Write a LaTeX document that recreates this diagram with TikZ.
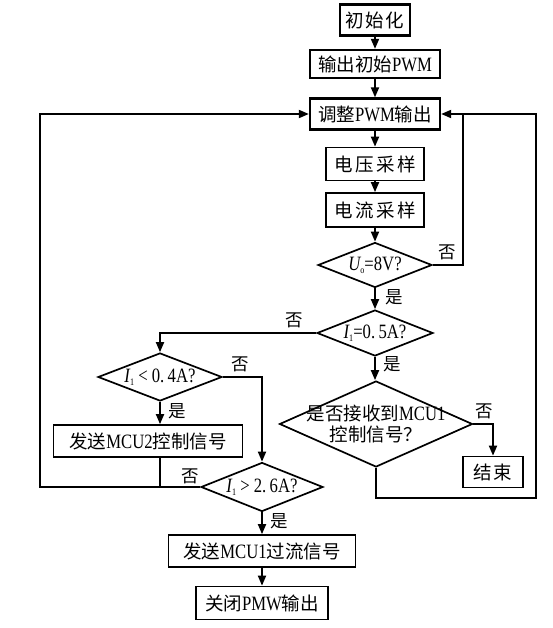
\documentclass[tikz,border=0pt]{standalone}
\usepackage{fontspec}
\setmainfont{Liberation Serif}[Scale=1.1, FakeStretch=0.82]
\newfontfamily\cjk{Noto Sans CJK SC}
\newfontfamily\cjkwide[LetterSpace=14]{Noto Sans CJK SC}
\newfontfamily\cjkmid[LetterSpace=8]{Noto Sans CJK SC}
\usetikzlibrary{arrows.meta,shapes.geometric}
\newcommand{\zhtxt}[1]{{\cjk #1}}
\newcommand{\subidx}[1]{\raisebox{-3pt}{\fontsize{9}{9}\selectfont #1}}
\begin{document}
\begin{tikzpicture}[x=1pt,y=-1pt,
 procbox/.style={draw, line width=1.7pt, inner sep=0pt, font=\fontsize{18.5}{21}\selectfont},
 topbox/.style={procbox, line width=2.3pt},
 dia/.style={draw, diamond, line width=1.7pt, inner sep=0pt},
 diatext/.style={font=\fontsize{18.5}{21}\selectfont, align=center, inner sep=0pt},
 lbl/.style={font=\fontsize{17.5}{17.5}\selectfont\cjk, inner sep=0pt},
 flow/.style={line width=1.8pt, -{Triangle[length=10pt,width=8pt]}},
 conn/.style={line width=1.8pt}]
\useasboundingbox (0,0) rectangle (552,628);
% main column
\node[topbox, minimum width=70pt, minimum height=31pt] (init) at (375,20) {{\cjkmid 初始化}};
\node[topbox, minimum width=130pt, minimum height=28pt] (out) at (375,64) {\zhtxt{输出初始}PWM};
\node[topbox, minimum width=130pt, minimum height=31pt] (adj) at (375,114) {\zhtxt{调整}PWM\zhtxt{输出}};
\node[procbox, minimum width=98pt, minimum height=33pt] (vs) at (375,164) {{\cjkwide 电压采样}};
\node[procbox, minimum width=98pt, minimum height=34pt] (cs) at (375,210) {{\cjkwide 电流采样}};
\node[dia, minimum width=114pt, minimum height=45pt, label={[diatext]center:{\itshape U}\subidx{o}=8V?}] (d1) at (375,265) {};
\node[dia, minimum width=116pt, minimum height=46pt, label={[diatext]center:{\itshape I}\subidx{1}=0.\,5A?}] (d2) at (375,333) {};
\node[dia, minimum width=193pt, minimum height=86pt, label={[diatext]center:\zhtxt{是否接收到}MCU1\\\zhtxt{控制信号？}}] (d3) at (376,424) {};
\node[procbox, minimum width=60pt, minimum height=31pt] (end) at (493,472) {{\cjkmid 结束}};
% left part
\node[dia, minimum width=124pt, minimum height=48pt, label={[diatext]center:{\itshape I}\subidx{1} < 0.\,4A?}] (d4) at (160,377) {};
\node[procbox, minimum width=189pt, minimum height=32pt] (mcu2) at (148,441) {\zhtxt{发送}MCU2\zhtxt{控制信号}};
\node[dia, minimum width=122pt, minimum height=49pt, label={[diatext]center:{\itshape I}\subidx{1} > 2.\,6A?}] (d5) at (262,487) {};
\node[procbox, minimum width=187pt, minimum height=32pt] (mcu1) at (262,551) {\zhtxt{发送}MCU1\zhtxt{过流信号}};
\node[procbox, minimum width=132pt, minimum height=33pt] (close) at (262,603) {\zhtxt{关闭}PMW\zhtxt{输出}};
% helper coordinates
\coordinate (r1) at (463,114);
\coordinate (r2) at (536,498);
\coordinate (l1) at (40,487);
% connectors
\draw[flow] (init.south) -- (out.north);
\draw[flow] (out.south) -- (adj.north);
\draw[flow] (adj.south) -- (vs.north);
\draw[flow] (vs.south) -- (cs.north);
\draw[flow] (cs.south) -- (d1.north);
\draw[conn] (d1.east) -| (r1);
\draw[flow] (d1.south) -- (d2.north);
\draw[flow] (d2.west) -| (d4.north);
\draw[flow] (d2.south) -- (d2.south |- d3.north);
\draw[flow] (d3.east) -| (end.north);
\draw[flow] (d3.south) |- (r2) |- (adj.east);
\draw[flow] (d4.east) -| (d5.north);
\draw[flow] (d4.south) -- (d4.south |- mcu2.north);
\draw[conn] (d4.south |- mcu2.south) -- (d4.south |- d5.west);
\draw[flow] (d5.west) -- (l1) |- (adj.west);
\draw[flow] (d5.south) -- (mcu1.north);
\draw[flow] (mcu1.south) -- (close.north);
% branch labels
\node[lbl] (n1) at (447,252) {否};
\node[lbl] (y1) at (394,297) {是};
\node[lbl] (n2) at (294,320) {否};
\node[lbl] (y2) at (392,364) {是};
\node[lbl] (n3) at (484,411) {否};
\node[lbl] (n4) at (240,364) {否};
\node[lbl] (y4) at (177,411) {是};
\node[lbl] (n5) at (190,476) {否};
\node[lbl] (y5) at (279,521) {是};
\end{tikzpicture}
\end{document}
